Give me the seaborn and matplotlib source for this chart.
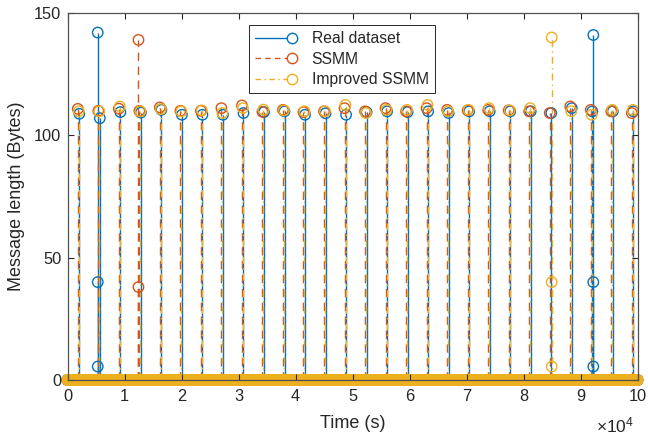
import numpy as np
import pandas as pd
import matplotlib
matplotlib.use("Agg")
import matplotlib.pyplot as plt
from matplotlib.lines import Line2D
from matplotlib.legend_handler import HandlerBase
import seaborn as sns

# Hourly report slots (s) and the per-slot message lengths (Bytes)
slot_times = np.arange(1950, 100000, 3600)

real_lengths = [108.8, 107.0, 109.5, 109.3, 110.4, 108.4, 108.4, 108.4, 109.1, 109.5,
                109.8, 108.4, 109.0, 108.4, 109.5, 109.8, 109.5, 109.8, 109.1, 109.8,
                109.8, 109.8, 109.8, 109.1, 111.1, 109.8, 109.8, 109.8]
ssmm_lengths = [110.8, 110.0, 110.9, 110.0, 111.4, 110.0, 110.0, 111.1, 112.2, 109.6,
                110.4, 109.5, 109.8, 111.1, 109.8, 111.1, 109.8, 111.1, 110.4, 110.2,
                110.4, 110.2, 109.8, 109.1, 111.8, 110.4, 109.8, 109.1]
improved_lengths = [109.8, 109.8, 111.8, 109.8, 110.7, 109.8, 110.2, 109.1, 111.1, 110.5,
                    110.2, 109.8, 109.8, 112.4, 109.1, 110.4, 110.4, 112.4, 109.8, 110.4,
                    111.1, 110.2, 111.1, np.nan, 109.8, 108.4, 110.4, 110.4]

# Irregular bursts of messages
real_burst_times = [5300, 5300, 5300, 92250, 92250, 92250]
real_burst_lengths = [142, 40, 5.5, 141, 40, 5.5]
ssmm_burst_times = [12450, 12450]
ssmm_burst_lengths = [139, 38]
improved_burst_times = [84950, 84950, 84950]
improved_burst_lengths = [140, 40, 5.5]

# Idle samples (zero length) across the whole time span
idle_times = np.arange(0, 100001, 50)

series_names = ["Real dataset", "SSMM", "Improved SSMM"]
slot_shift = [120, -150, 20]
colors = ["#0072BD", "#D95319", "#EDB120"]
dash_styles = ["-", (0, (6, 4)), (0, (5, 3, 1, 3))]
legend_dashes = ["-", (0, (4, 3)), (0, (4, 2.5, 1, 2.5))]

sns.set_theme(style="ticks")
plt.rcParams["font.family"] = ["Liberation Sans", "DejaVu Sans"]
plt.rcParams["mathtext.fontset"] = "custom"
plt.rcParams["mathtext.rm"] = "Liberation Sans"

fig = plt.figure(figsize=(6.48, 4.40), dpi=100)
ax = fig.add_axes([0.1042, 0.1364, 0.9838 - 0.1042, 0.9705 - 0.1364])

slot_values = [real_lengths, ssmm_lengths, improved_lengths]
burst_t = [real_burst_times, ssmm_burst_times, improved_burst_times]
burst_v = [real_burst_lengths, ssmm_burst_lengths, improved_burst_lengths]

ms = 7.5
for i, name in enumerate(series_names):
    t = np.concatenate([slot_times + slot_shift[i], burst_t[i]])
    v = np.concatenate([np.asarray(slot_values[i], float), burst_v[i]])
    keep = ~np.isnan(v)
    df = pd.DataFrame({"time": t[keep], "length": v[keep]})
    ax.vlines(df["time"], 0, df["length"], colors=colors[i],
              linestyles=[dash_styles[i]], linewidth=1.0, zorder=2)
    sns.scatterplot(data=df, x="time", y="length", ax=ax, marker="o", s=ms ** 2,
                    color=colors[i], facecolor="none", edgecolor=colors[i],
                    linewidth=1.0, legend=False, zorder=2.1)
    idle = pd.DataFrame({"time": idle_times, "length": np.zeros(len(idle_times))})
    sns.scatterplot(data=idle, x="time", y="length", ax=ax, marker="o", s=ms ** 2,
                    color=colors[i], facecolor="none", edgecolor=colors[i],
                    linewidth=1.0, legend=False, zorder=2.1)
    ax.collections[-1].set_clip_on(False)

ax.set_xlim(0, 100000)
ax.set_ylim(0, 150)
ax.set_xticks(np.arange(0, 100001, 10000))
ax.set_xticklabels([str(k) for k in range(11)])
ax.set_yticks([0, 50, 100, 150])
ax.set_yticklabels(["0", "50", "100", "150"])

axis_col = "#262626"
ax.set_axisbelow(False)
for sp in ax.spines.values():
    sp.set_visible(True)
    sp.set_color("#505050")
    sp.set_linewidth(0.9)
    sp.set_zorder(3)
ax.tick_params(axis="both", direction="in", length=4, width=0.8, color=axis_col,
               labelsize=11.8, labelcolor=axis_col, top=True, right=True)
ax.tick_params(axis="x", pad=6.5)
ax.tick_params(axis="y", pad=4.5)

ax.set_xlabel("Time (s)", fontsize=13, color=axis_col)
ax.set_ylabel("Message length (Bytes)", fontsize=13, color=axis_col)
ax.xaxis.set_label_coords(0.5, -0.095)
ax.yaxis.set_label_coords(-0.0746, 0.5)
ax.text(0.994, -0.125, r"$\times\mathrm{10^{4}}$", transform=ax.transAxes,
        ha="right", va="center", fontsize=12.5, color=axis_col)


class StemHandler(HandlerBase):
    """Legend key drawn as a stem: a short line ending in an open circle."""

    def create_artists(self, legend, orig_handle, xdescent, ydescent, width,
                       height, fontsize, trans):
        y = (height - ydescent) / 2.0
        x0 = -xdescent
        x1 = -xdescent + width
        r = orig_handle.get_markersize() / 2.0
        line = Line2D([x0, x1 - 2 * r], [y, y], color=orig_handle.get_color(),
                      linestyle=orig_handle.key_linestyle,
                      linewidth=orig_handle.get_linewidth())
        mk = Line2D([x1 - r], [y], marker="o", markersize=orig_handle.get_markersize(),
                    markerfacecolor="none", markeredgecolor=orig_handle.get_color(),
                    markeredgewidth=1.0, linestyle="none")
        line.set_transform(trans)
        mk.set_transform(trans)
        return [line, mk]


handles = []
for i, name in enumerate(series_names):
    h = Line2D([], [], color=colors[i], linewidth=1.0, markersize=ms, label=name)
    h.key_linestyle = legend_dashes[i]
    handles.append(h)

leg = ax.legend(handles=handles, loc="upper left", bbox_to_anchor=(0.318, 0.967),
                borderaxespad=0, fontsize=11.3, handlelength=2.7, handletextpad=0.9,
                borderpad=0.4, labelspacing=0.34, fancybox=False, framealpha=1,
                edgecolor="#262626", handler_map={Line2D: StemHandler()})
leg.get_frame().set_linewidth(0.7)
for txt in leg.get_texts():
    txt.set_color(axis_col)

fig.savefig("out.png", dpi=100)
